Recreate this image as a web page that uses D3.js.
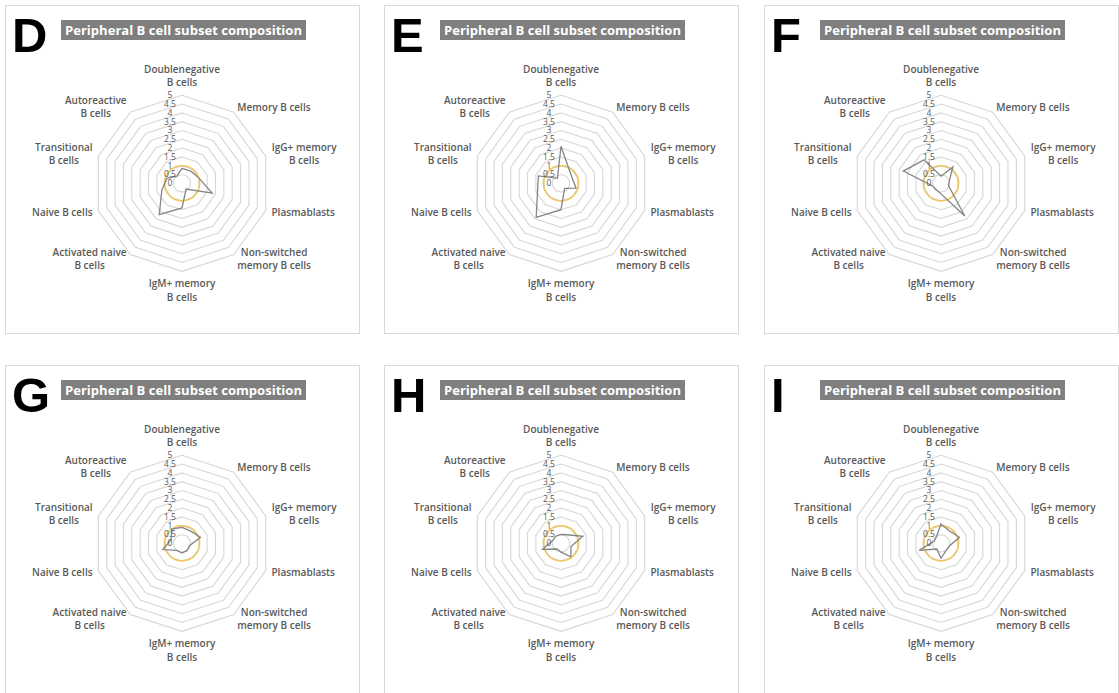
<!DOCTYPE html>
<html>
<head>
<meta charset="utf-8">
<script src="https://cdn.jsdelivr.net/npm/d3@7"></script>
<style>
  html, body { margin: 0; padding: 0; background: #ffffff; }
  svg { display: block; }
</style>
</head>
<body>
<svg id="chart" width="1119" height="693"></svg>
<script>
// B cell subsets, clockwise from the top spoke ("|" marks a line break in the label)
const categories = [
  "Doublenegative|B cells",
  "Memory B cells",
  "IgG+ memory|B cells",
  "Plasmablasts",
  "Non-switched|memory B cells",
  "IgM+ memory|B cells",
  "Activated naive|B cells",
  "Naive B cells",
  "Transitional|B cells",
  "Autoreactive|B cells"
];

const panelLetters = ["D", "E", "F", "G", "H", "I"];
const chartTitle = "Peripheral B cell subset composition";

// Relative subset frequency per panel (reference level = 1)
const valuesD = [0.85, 0.85, 1.0, 1.8, 0.4, 1.4, 2.2, 1.2, 0.9, 0.5];
const valuesE = [2.1, 0.85, 0.7, 0.9, 0.35, 1.5, 2.4, 1.4, 1.35, 0.35];
const valuesF = [0.4, 1.15, 0.5, 0.45, 2.3, 0.6, 0.45, 0.5, 2.25, 1.65];
const valuesG = [0.9, 0.85, 1.1, 0.45, 0.5, 0.55, 0.5, 1.15, 0.65, 1.0];
const valuesH = [0.5, 0.6, 1.3, 0.6, 0.95, 0.5, 0.4, 1.1, 0.5, 0.5];
const valuesI = [1.1, 0.85, 1.1, 0.5, 0.5, 0.85, 0.4, 1.3, 0.4, 0.45];
const panelValues = [valuesD, valuesE, valuesF, valuesG, valuesH, valuesI];

const referenceLevel = 1;
const tickValues = [0, 0.5, 1, 1.5, 2, 2.5, 3, 3.5, 4, 4.5, 5];
const tickLabels = ["0", "0.5", "1", "1.5", "2", "2.5", "3", "3.5", "4", "4.5", "5"];

// ---- layout ----
const svg = d3.select("#chart");
const panelW = 354, panelH = 328;
const colX = [5, 384, 764];
const rowY = [5, 365];
const radarR = 88;

const r = d3.scaleLinear().domain([0, 5]).range([0, radarR]);
const angle = d3.scaleLinear().domain([0, categories.length]).range([0, 2 * Math.PI]);

const labelFont = "'Open Sans', 'Noto Sans', sans-serif";

panelLetters.forEach((letter, p) => {
  const px = colX[p % 3], py = rowY[Math.floor(p / 3)];
  const g = svg.append("g").attr("transform", `translate(${px},${py})`);

  // panel frame
  g.append("rect")
    .attr("x", 0.5).attr("y", 0.5)
    .attr("width", panelW).attr("height", panelH)
    .attr("fill", "#ffffff")
    .attr("stroke", "#d9d9d9").attr("stroke-width", 1);

  // panel letter
  g.append("text")
    .attr("x", 7).attr("y", 47)
    .attr("font-family", "'Liberation Sans', Arial, sans-serif")
    .attr("font-weight", 900)
    .attr("font-size", 49)
    .attr("fill", "#000000")
    .text(letter);

  // title banner
  g.append("rect")
    .attr("x", 56).attr("y", 15)
    .attr("width", 245).attr("height", 20)
    .attr("fill", "#7f7f7f");
  g.append("text")
    .attr("x", 178.5).attr("y", 29.5)
    .attr("text-anchor", "middle")
    .attr("font-family", labelFont)
    .attr("font-weight", 700)
    .attr("font-size", 13)
    .attr("textLength", 237)
    .attr("lengthAdjust", "spacingAndGlyphs")
    .attr("fill", "#ffffff")
    .text(chartTitle);

  const cx = 177, cy = 178.3;
  const radar = g.append("g").attr("transform", `translate(${cx},${cy})`);

  // concentric decagon gridlines
  const ring = d3.lineRadial()
    .angle((d, i) => angle(i))
    .radius(d => r(d))
    .curve(d3.curveLinearClosed);
  tickValues.filter(t => t > 0).forEach(t => {
    radar.append("path")
      .attr("d", ring(categories.map(() => t)))
      .attr("fill", "none")
      .attr("stroke", "#d6d6d6")
      .attr("stroke-width", 1.1);
  });

  // reference circle
  radar.append("circle")
    .attr("r", r(referenceLevel))
    .attr("fill", "none")
    .attr("stroke", "#f0c75e")
    .attr("stroke-width", 1.6);

  // series polygon
  radar.append("path")
    .attr("d", ring(panelValues[p]))
    .attr("fill", "none")
    .attr("stroke", "#858585")
    .attr("stroke-width", 1.3)
    .attr("stroke-linejoin", "miter");

  // value axis labels
  radar.selectAll("text.tick")
    .data(tickValues)
    .join("text")
    .attr("class", "tick")
    .attr("x", -12)
    .attr("y", d => -r(d))
    .attr("dy", "0.35em")
    .attr("text-anchor", "middle")
    .attr("font-family", labelFont)
    .attr("font-size", 8.5)
    .attr("fill", "#595959")
    .text((d, i) => tickLabels[i]);

  // category labels
  const anchorR = 94, lineH = 13.3;
  categories.forEach((cat, i) => {
    const a = angle(i);
    const sx = Math.sin(a), sy = -Math.cos(a);
    const ax = anchorR * sx, ay = anchorR * sy;
    const lines = cat.split("|");
    const blockH = lines.length * lineH;
    let top;
    if (sy < -0.95) top = ay - blockH;
    else if (sy > 0.95) top = ay;
    else top = ay - blockH / 2;

    const t = radar.append("text")
      .attr("font-family", labelFont)
      .attr("font-weight", 600)
      .attr("font-size", 10)
      .attr("fill", "#595959")
      .attr("text-anchor", "middle");
    lines.forEach((ln, k) => {
      t.append("tspan").attr("x", 0).attr("y", top + lineH * k + lineH / 2).attr("dy", "0.35em").text(ln);
    });
    // horizontal alignment of the whole block against the anchor point
    const bw = t.node().getBBox().width;
    let bx;
    if (sx > 0.1) bx = ax + bw / 2;
    else if (sx < -0.1) bx = ax - bw / 2;
    else bx = ax;
    t.selectAll("tspan").attr("x", bx);
  });
});
</script>
</body>
</html>
